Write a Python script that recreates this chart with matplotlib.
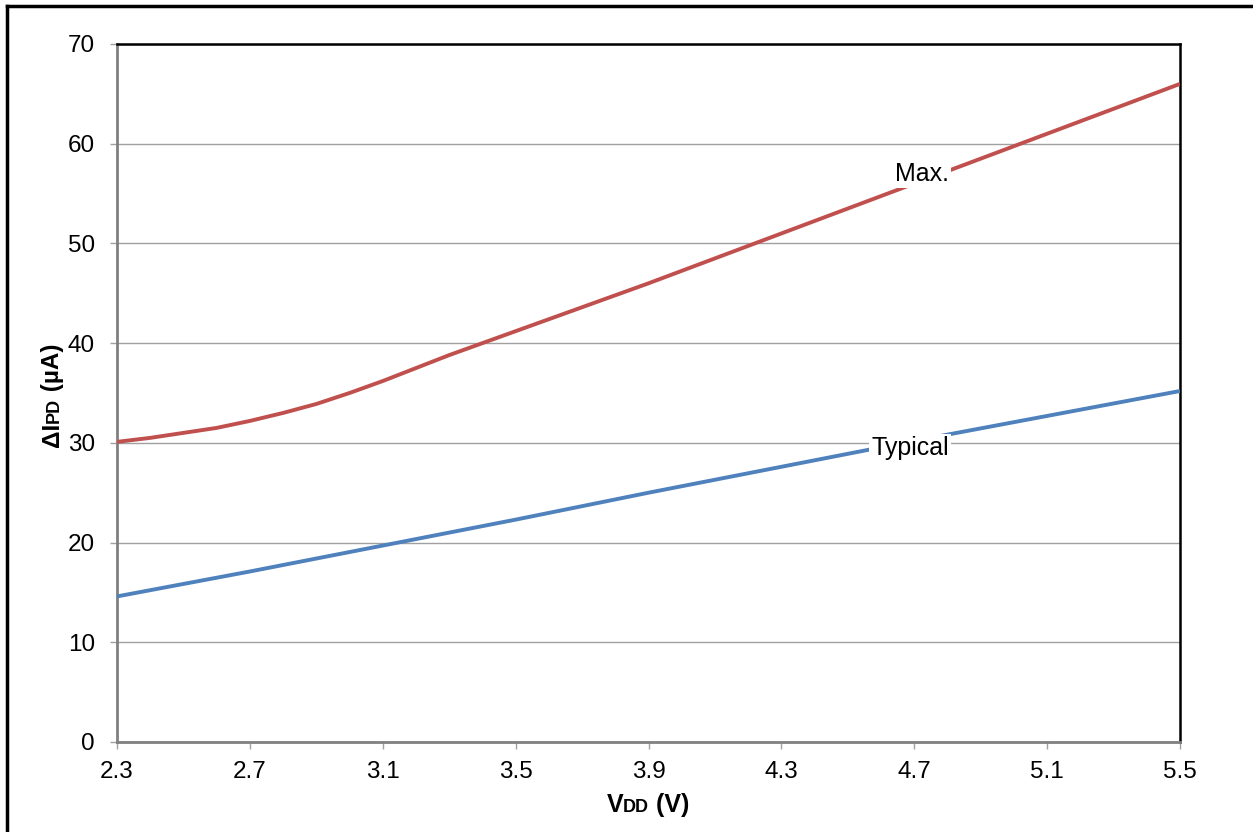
import matplotlib
matplotlib.use("Agg")
import matplotlib.pyplot as plt
from matplotlib.lines import Line2D

plt.rcParams['font.family'] = ['Liberation Sans', 'DejaVu Sans']

vdd_max = [2.3, 2.4, 2.5, 2.6, 2.7, 2.8, 2.9, 3.0, 3.1, 3.2, 3.3, 3.4, 3.5, 3.7, 3.9, 4.1, 4.3, 4.5, 4.7, 4.9, 5.1, 5.3, 5.5]
i_max = [30.1, 30.5, 31.0, 31.5, 32.2, 33.0, 33.9, 35.0, 36.2, 37.5, 38.8, 40.0, 41.2, 43.6, 46.0, 48.5, 51.0, 53.5, 56.0, 58.5, 61.0, 63.5, 66.0]
vdd_typ = [2.3, 2.5, 2.7, 2.9, 3.1, 3.3, 3.5, 3.7, 3.9, 4.1, 4.3, 4.5, 4.7, 4.9, 5.1, 5.3, 5.5]
i_typ = [14.6, 15.85, 17.1, 18.4, 19.7, 21.0, 22.3, 23.65, 25.0, 26.3, 27.6, 28.9, 30.2, 31.45, 32.7, 33.95, 35.2]
xticks = [2.3, 2.7, 3.1, 3.5, 3.9, 4.3, 4.7, 5.1, 5.5]
yticks = [0, 10, 20, 30, 40, 50, 60, 70]

W, H = 1253, 832
fig = plt.figure(figsize=(W / 100, H / 100), dpi=100)
ax = fig.add_axes([117 / W, 1 - 742 / H, (1180 - 117) / W, (742 - 44) / H])

ax.plot(vdd_max, i_max, color='#C0504D', lw=2.8, solid_capstyle='butt', solid_joinstyle='round', zorder=3)
ax.plot(vdd_typ, i_typ, color='#4F81BD', lw=2.8, solid_capstyle='butt', solid_joinstyle='round', zorder=3)

ax.set_xlim(2.3, 5.5)
ax.set_ylim(0, 70)
ax.set_xticks(xticks)
ax.set_xticklabels([f"{t:.1f}" for t in xticks])
ax.set_yticks(yticks)
ax.grid(axis='y', color='#A0A0A0', lw=1.0, zorder=1)
ax.set_axisbelow(True)
for s in ['top', 'right']:
    ax.spines[s].set_color('black')
    ax.spines[s].set_linewidth(1.8)
for s in ['left', 'bottom']:
    ax.spines[s].set_color('#808080')
    ax.spines[s].set_linewidth(2.0)
ax.tick_params(axis='both', colors='#A0A0A0', length=5, width=1.0, labelsize=17.5, labelcolor='black')
ax.tick_params(axis='x', pad=9)
ax.tick_params(axis='y', pad=11)

ax.text(4.723, 57.0, 'Max.', fontsize=18, ha='center', va='center', zorder=5,
        bbox=dict(facecolor='white', edgecolor='none', pad=1.5))
ax.text(4.687, 29.5, 'Typical', fontsize=18, ha='center', va='center', zorder=5,
        bbox=dict(facecolor='white', edgecolor='none', pad=1.5))

# outer border
fig.add_artist(Line2D([7 / W, 7 / W], [0, 1 - 6 / H], color='black', lw=2.5, transform=fig.transFigure))
fig.add_artist(Line2D([7 / W, 1], [1 - 6 / H, 1 - 6 / H], color='black', lw=2.5, transform=fig.transFigure))

# composite axis labels
fig.canvas.draw()
r = fig.canvas.get_renderer()

def chain(parts, x0, y0, rot):
    # x0, y0: pixel coords (from top-left) of baseline center
    texts = []
    for t, sz in parts:
        texts.append(fig.text(0, 0, t, fontsize=sz, fontweight='bold', rotation=rot,
                              rotation_mode='anchor', ha='left', va='baseline'))
    sizes = []
    for tx in texts:
        bb = tx.get_window_extent(r)
        sizes.append(bb.width if rot == 0 else bb.height)
    total = sum(sizes)
    if rot == 0:
        pos = x0 - total / 2
        for tx, s in zip(texts, sizes):
            tx.set_position((pos / W, 1 - y0 / H))
            pos += s
    else:
        pos = (H - y0) - total / 2
        for tx, s in zip(texts, sizes):
            tx.set_position((x0 / W, pos / H))
            pos += s

chain([('V', 18), ('DD', 13), (' (V)', 18)], 648, 812, 0)
chain([('ΔI', 17.5), ('PD', 13), (' (µA)', 17.5)], 59, 395, 90)

fig.savefig('out.png', dpi=100)
